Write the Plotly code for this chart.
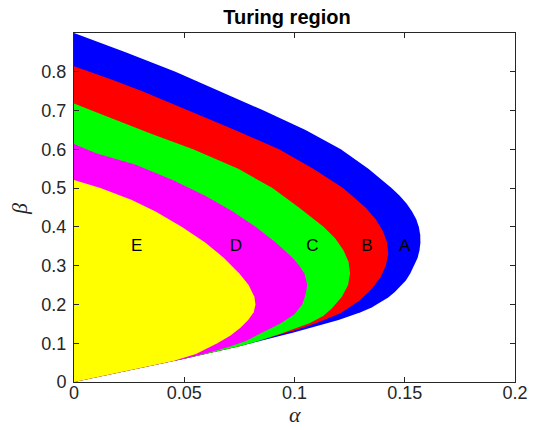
import plotly.graph_objects as go

# Region boundaries (alpha, beta), traced from the origin along the lower edge,
# around the tip and back to the beta-axis intercept.
A_alpha = [0, .025, .05, .075, .10, .12, .125, .13, .135, .139, .1425, .1455, .1482, .1505, .1525, .1543, .1558, .1567, .1571, .1570, .1564, .1552, .1533, .1508, .1477, .1440, .1335, .121, .105, .086, .066, .046, .0237, 0]
A_beta = [0, .030, .060, .092, .128, .160, .169, .180, .192, .205, .218, .232, .247, .262, .280, .300, .320, .340, .360, .380, .400, .420, .440, .460, .480, .500, .550, .600, .650, .700, .750, .800, .850, .900]

B_alpha = [0, .025, .05, .075, .09, .100, .110, .121, .1295, .1350, .1390, .1414, .1425, .1420, .1400, .1368, .1322, .1220, .1085, .093, .073, .052, .031, .017, 0]
B_beta = [0, .030, .060, .092, .116, .133, .152, .178, .210, .240, .270, .300, .330, .360, .390, .420, .450, .500, .550, .600, .650, .700, .750, .780, .814]

C_alpha = [0, .025, .05, .075, .085, .094, .100, .107, .113, .117, .1215, .1243, .1252, .1245, .1222, .1185, .1133, .1020, .0900, .0745, .0540, .0350, .0170, 0]
C_beta = [0, .030, .060, .092, .108, .125, .138, .152, .170, .190, .220, .250, .280, .310, .340, .370, .400, .450, .500, .550, .600, .640, .680, .7185]

D_alpha = [0, .025, .05, .060, .070, .078, .086, .094, .1000, .1035, .1050, .1058, .1045, .1022, .0992, .0915, .0825, .0720, .0595, .0450, .0280, .0100, 0]
D_beta = [0, .030, .060, .074, .090, .106, .128, .152, .175, .200, .225, .250, .280, .300, .320, .360, .400, .440, .480, .520, .560, .590, .614]

E_alpha = [0, .025, .045, .0553, .065, .0710, .0755, .0790, .0815, .0823, .0818, .0792, .0750, .0680, .0595, .0490, .0370, .0260, .0120, 0]
E_beta = [0, .030, .054, .072, .100, .120, .140, .160, .180, .200, .220, .250, .280, .320, .360, .400, .440, .470, .500, .521]

region_names = ["A", "B", "C", "D", "E"]
region_colors = ["#0000FF", "#FF0000", "#00FF00", "#FF00FF", "#FFFF00"]
label_alpha = [0.150, 0.1329, 0.1081, 0.0734, 0.0284]
label_beta = [0.35, 0.35, 0.35, 0.35, 0.35]

x_ticks = [0, 0.05, 0.1, 0.15, 0.2]
x_ticktext = ["0", "0.05", "0.1", "0.15", "0.2"]
y_ticks = [0, 0.1, 0.2, 0.3, 0.4, 0.5, 0.6, 0.7, 0.8]
y_ticktext = ["0", "0.1", "0.2", "0.3", "0.4", "0.5", "0.6", "0.7", "0.8"]

boundaries = [(A_alpha, A_beta), (B_alpha, B_beta), (C_alpha, C_beta), (D_alpha, D_beta), (E_alpha, E_beta)]

fig = go.Figure()
for (ax, bx), col, name in zip(boundaries, region_colors, region_names):
    fig.add_trace(go.Scatter(
        x=list(ax) + [0], y=list(bx) + [0], mode="lines", fill="toself",
        fillcolor=col, line=dict(width=0, color=col),
        name=name, hoverinfo="skip", showlegend=False))

fig.add_trace(go.Scatter(
    x=label_alpha, y=label_beta, mode="text", text=region_names,
    textfont=dict(family="Liberation Sans, Arial, sans-serif", size=17, color="black"),
    textposition="middle center", showlegend=False, hoverinfo="skip"))

axis_common = dict(
    showline=True, linecolor="#262626", linewidth=1, mirror="ticks",
    ticks="inside", ticklen=5, tickcolor="#262626", showgrid=False, zeroline=False,
    tickfont=dict(family="Liberation Sans, Arial, sans-serif", size=18, color="#262626"),
)

# The page body has an 8px default margin, so the figure is made 8px smaller.
fig.update_layout(
    width=532, height=422,
    margin=dict(l=66, r=14, t=25, b=48),
    paper_bgcolor="white", plot_bgcolor="white",
    title=dict(text="<b>Turing region</b>", x=0.5245, xanchor="center",
               y=1 - 9 / 422, yanchor="middle", yref="container",
               font=dict(family="Liberation Sans, Arial, sans-serif", size=20, color="black")),
    xaxis=dict(range=[0, 0.2], tickvals=x_ticks, ticktext=x_ticktext,
               ticklabelstandoff=-6, **axis_common),
    yaxis=dict(range=[0, 0.9], tickvals=y_ticks, ticktext=y_ticktext,
               ticklabelstandoff=3, **axis_common),
    annotations=[
        dict(text="<i>α</i>", xref="paper", yref="paper", x=0.5, y=-0.093,
             xanchor="center", yanchor="middle", showarrow=False,
             font=dict(family="Liberation Serif, Times New Roman, serif", size=22, color="#262626")),
        dict(text="<i>β</i>", xref="paper", yref="paper", x=-0.122, y=0.496,
             xanchor="center", yanchor="middle", showarrow=False, textangle=-90,
             font=dict(family="Liberation Serif, Times New Roman, serif", size=22, color="#262626")),
    ],
)

fig.write_html("out.html")
